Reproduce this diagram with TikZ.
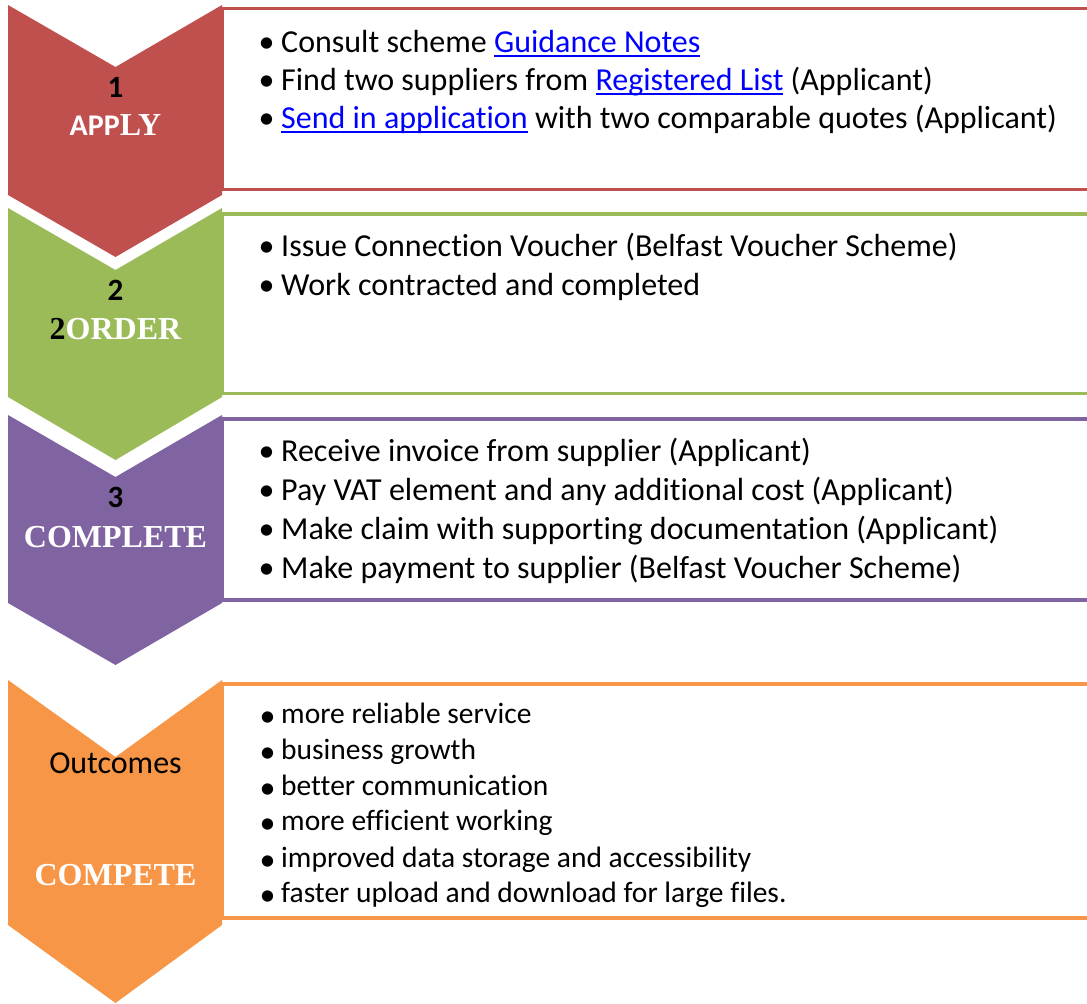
\documentclass[tikz,border=0pt]{standalone}
\usepackage{fontspec}
\setmainfont{Carlito}[Ligatures=NoCommon]
\newfontfamily\tnr{Liberation Serif}
\definecolor{cred}{HTML}{C0504D}
\definecolor{cgreen}{HTML}{9BBB59}
\definecolor{cpurple}{HTML}{8064A2}
\definecolor{corange}{HTML}{F79646}
\definecolor{linkblue}{HTML}{0000FF}
\newsavebox{\lnkbox}
\newcommand{\lnk}[1]{\textcolor{linkblue}{\sbox{\lnkbox}{#1}\rlap{\rule[-4.5pt]{\wd\lnkbox}{2pt}}\usebox{\lnkbox}}}
\tikzset{
  body/.style={anchor=base west, inner sep=0pt, font=\fontsize{32}{38}\selectfont},
  bodysm/.style={anchor=base west, inner sep=0pt, font=\fontsize{29.5}{35}\selectfont},
  bul/.style={anchor=base, inner sep=0pt, font=\fontsize{32}{38}\selectfont},
  stepbox/.style={line width=3.5pt},
  num/.style={anchor=base, inner sep=0pt, font=\fontsize{31}{36}\selectfont\bfseries},
  lbl/.style={anchor=base, inner sep=0pt, text=white, font=\fontsize{32}{38}\selectfont\tnr\bfseries},
}
\begin{document}
\begin{tikzpicture}[x=1pt,y=-1pt]
\useasboundingbox (0,0) rectangle (1087,1004);
% chevrons
\fill[cred]    (8,5)   -- (115.5,67)  -- (222,5)   -- (222,195) -- (115.5,257)  -- (8,195) -- cycle;
\fill[cgreen]  (8,208) -- (115.5,270) -- (222,208) -- (222,397) -- (115.5,460)  -- (8,397) -- cycle;
\fill[cpurple] (8,415) -- (115.5,477) -- (222,415) -- (222,603) -- (115.5,665)  -- (8,603) -- cycle;
\fill[corange] (8,680) -- (115.5,757) -- (222,680) -- (222,925) -- (115.5,1003) -- (8,925) -- cycle;
% boxes
\draw[stepbox, cred]    (222.5,8.5) rectangle (1095,189.5);
\draw[stepbox, cgreen]  (222.5,214) rectangle (1095,393.5);
\draw[stepbox, cpurple] (222.5,419) rectangle (1095,600);
\draw[stepbox, corange] (222.5,684) rectangle (1095,918);
% chevron labels
\node[num] (n1) at (115.5,97) {1};
\node[anchor=base, inner sep=0pt, text=white] (l1) at (115.5,135)
  {{\fontsize{30}{36}\selectfont\bfseries APP}{\fontsize{32}{38}\selectfont\tnr\bfseries LY}};
\node[num] (n2) at (115.5,300) {2};
\node[lbl] (l2) at (115.5,339) {\textcolor{black}{2}ORDER};
\node[num] (n3) at (115.5,507) {3};
\node[lbl] (l3) at (115.5,547) {COMPLETE};
\node[anchor=base, inner sep=0pt, font=\fontsize{32}{38}\selectfont] (o4) at (115.5,773) {Outcomes};
\node[lbl] (l4) at (115.5,885) {COMPETE};
% box 1
\node[bul] (b11) at (266.5,52) {•};
\node[body] (t11) at (281,52) {Consult scheme \lnk{Guidance Notes}};
\node[bul] (b12) at (266.5,90) {•};
\node[body] (t12) at (281,90) {Find two suppliers from \lnk{Registered List} (Applicant)};
\node[bul] (b13) at (266.5,128) {•};
\node[body] (t13) at (281,128) {\lnk{Send in application} with two comparable quotes (Applicant)};
% box 2
\node[bul] (b21) at (266.5,256) {•};
\node[body] (t21) at (281,256) {Issue Connection Voucher (Belfast Voucher Scheme)};
\node[bul] (b22) at (266.5,295) {•};
\node[body] (t22) at (281,295) {Work contracted and completed};
% box 3
\node[bul] (b31) at (266.5,461) {•};
\node[body] (t31) at (281,461) {Receive invoice from supplier (Applicant)};
\node[bul] (b32) at (266.5,500) {•};
\node[body] (t32) at (281,500) {Pay VAT element and any additional cost (Applicant)};
\node[bul] (b33) at (266.5,539) {•};
\node[body] (t33) at (281,539) {Make claim with supporting documentation (Applicant)};
\node[bul] (b34) at (266.5,578) {•};
\node[body] (t34) at (281,578) {Make payment to supplier (Belfast Voucher Scheme)};
% box 4
\node[bul] (b41) at (267.5,726) {•};
\node[bodysm] (t41) at (281,723) {more reliable service};
\node[bul] (b42) at (267.5,762) {•};
\node[bodysm] (t42) at (281,759) {business growth};
\node[bul] (b43) at (267.5,798) {•};
\node[bodysm] (t43) at (281,795) {better communication};
\node[bul] (b44) at (267.5,833) {•};
\node[bodysm] (t44) at (281,830) {more efficient working};
\node[bul] (b45) at (267.5,870) {•};
\node[bodysm] (t45) at (281,867) {improved data storage and accessibility};
\node[bul] (b46) at (267.5,905) {•};
\node[bodysm] (t46) at (281,902) {faster upload and download for large files.};
\end{tikzpicture}
\end{document}
